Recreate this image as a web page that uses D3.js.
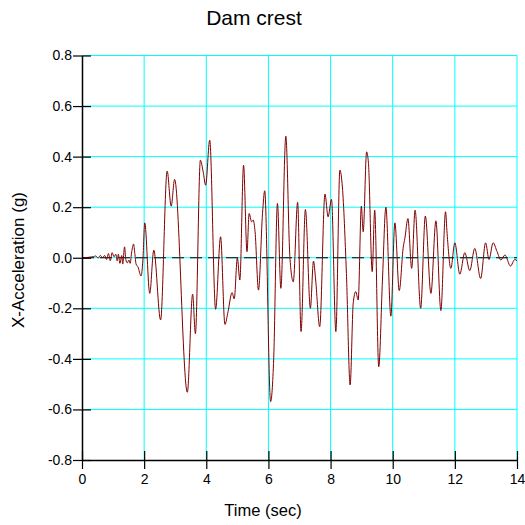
<!DOCTYPE html>
<html>
<head>
    <meta charset="UTF-8">
    <title>Dam crest</title>
    <script src="https://d3js.org/d3.v7.min.js"></script>
    <style>
        body { margin: 0; background: #fff; }
        text { font-family: "Liberation Sans", Arial, sans-serif; fill: #000; }
    </style>
</head>
<body>
<svg width="525" height="525"></svg>
<script>

  // DATA

  var timeSec = [
    0, 0.36, 0.44, 0.52, 0.59, 0.66, 0.73, 0.79, 0.85, 0.91,
    0.97, 1.03, 1.09, 1.13, 1.17, 1.22, 1.28, 1.31, 1.37, 1.41,
    1.46, 1.51, 1.55, 1.60, 1.66, 1.70, 1.74, 1.80, 1.90, 1.96,
    2.02, 2.18, 2.31, 2.53, 2.74, 2.87, 2.98, 3.39, 3.56, 3.65,
    3.81, 3.90, 3.98, 4.11, 4.30, 4.46, 4.60, 4.70, 4.83, 4.90,
    5.00, 5.08, 5.20, 5.31, 5.38, 5.46, 5.51, 5.57, 5.68, 5.81,
    5.88, 6.07, 6.17, 6.29, 6.40, 6.56, 6.69, 6.80, 6.94, 7.05,
    7.19, 7.35, 7.45, 7.52, 7.65, 7.82, 7.92, 8.03, 8.17, 8.30,
    8.38, 8.51, 8.63, 8.73, 8.81, 8.89, 8.99, 9.05, 9.16, 9.22,
    9.34, 9.42, 9.55, 9.67, 9.78, 9.94, 10.07, 10.21, 10.34, 10.39,
    10.49, 10.61, 10.72, 10.90, 11.05, 11.23, 11.39, 11.55, 11.70, 11.75,
    11.87, 12.00, 12.16, 12.32, 12.48, 12.64, 12.83, 12.99, 13.10, 13.23,
    13.36, 13.48, 13.61, 13.79, 13.93, 14.0
  ];

  var accelG = [
    0, 0.004, 0.007, -0.001, 0.009, 0.001, 0.009, -0.007, 0.017, -0.012,
    0.020, 0.004, 0.014, -0.012, 0.014, -0.022, 0.009, -0.025, 0.043, -0.007,
    -0.020, -0.009, -0.022, 0.024, 0.054, 0.017, -0.025, -0.036, -0.072, -0.009,
    0.138, -0.141, 0.030, -0.246, 0.343, 0.204, 0.310, -0.532, -0.144, -0.300,
    0.386, 0.340, 0.287, 0.465, -0.204, 0.083, -0.264, -0.213, -0.138, -0.163,
    0.000, -0.088, 0.366, 0.024, 0.175, 0.142, 0.149, 0.103, -0.128, 0.175,
    0.265, -0.569, -0.398, 0.215, -0.121, 0.481, 0.004, -0.095, 0.219, -0.292,
    0.191, -0.200, -0.013, -0.088, -0.273, 0.252, 0.162, 0.231, -0.292, 0.347,
    0.280, -0.062, -0.503, -0.178, -0.134, -0.167, 0.204, 0.103, 0.419, 0.373,
    -0.055, 0.188, -0.431, -0.088, 0.200, -0.231, 0.138, -0.130, 0.043, 0.076,
    0.155, -0.042, 0.188, -0.200, 0.165, -0.141, 0.146, -0.209, 0.182, 0.096,
    -0.042, 0.059, -0.065, 0.020, -0.051, 0.037, -0.082, 0.059, -0.007, 0.059,
    0.024, -0.009, 0.011, -0.033, -0.007, -0.012
  ];

  var xTicks = [0, 2, 4, 6, 8, 10, 12, 14];
  var yTicks = [-0.8, -0.6, -0.4, -0.2, 0, 0.2, 0.4, 0.6, 0.8];

  var title = "Dam crest",
      xLabel = "Time (sec)",
      yLabel = "X-Acceleration (g)";

  // SETUP

  var svg = d3.select("svg"),
      plotLeft = 82, plotRight = 517, plotTop = 55.5, plotBottom = 460;

  var x = d3.scaleLinear().domain([0, 14]).range([plotLeft, plotRight]),
      y = d3.scaleLinear().domain([-0.8, 0.8]).range([plotBottom, plotTop]);

  // grid
  var grid = svg.append("g").attr("stroke", "#00ffff").attr("stroke-width", 1);

  grid.selectAll(".vgrid")
    .data(xTicks.slice(1))
    .enter().append("line")
    .attr("x1", function (d) { return x(d); })
    .attr("x2", function (d) { return x(d); })
    .attr("y1", plotTop)
    .attr("y2", plotBottom);

  grid.selectAll(".hgrid")
    .data(yTicks.slice(1))
    .enter().append("line")
    .attr("x1", plotLeft)
    .attr("x2", plotRight)
    .attr("y1", function (d) { return y(d); })
    .attr("y2", function (d) { return y(d); });

  // zero line
  svg.append("line")
    .attr("x1", plotLeft).attr("x2", plotRight)
    .attr("y1", y(0)).attr("y2", y(0))
    .attr("stroke", "#000")
    .attr("stroke-width", 1)
    .attr("stroke-dasharray", "12,6");

  // the record
  var data = timeSec.map(function (t, i) { return [t, accelG[i]]; });

  var line = d3.line()
    .x(function (d) { return x(d[0]); })
    .y(function (d) { return y(d[1]); })
    .curve(d3.curveMonotoneX);

  svg.append("path")
    .datum(data)
    .attr("fill", "none")
    .attr("stroke", "#800000")
    .attr("stroke-width", 1)
    .attr("d", line);

  // AXES

  var xAxis = svg.append("g")
    .attr("transform", "translate(0," + plotBottom + ")")
    .call(d3.axisBottom(x).tickValues(xTicks).tickSize(9).tickSizeOuter(0).tickPadding(5));

  xAxis.selectAll(".tick line").attr("y1", -9);

  var yAxis = svg.append("g")
    .attr("transform", "translate(" + plotLeft + ",0)")
    .call(d3.axisLeft(y).tickValues(yTicks).tickSize(9).tickSizeOuter(0).tickPadding(1)
      .tickFormat(function (d) { return d.toFixed(1); }));

  yAxis.selectAll(".tick line").attr("x1", 9);

  svg.selectAll(".domain").attr("stroke", "#000").attr("stroke-width", 1.5);
  svg.selectAll(".tick line").attr("stroke", "#000").attr("stroke-width", 1.2);
  svg.selectAll(".tick text")
    .style("font-family", "'Liberation Sans', Arial, sans-serif")
    .style("font-size", "14px");

  // LABELS

  svg.append("text")
    .attr("x", 254)
    .attr("y", 25)
    .attr("text-anchor", "middle")
    .style("font-size", "21px")
    .text(title);

  svg.append("text")
    .attr("x", 263)
    .attr("y", 516)
    .attr("text-anchor", "middle")
    .style("font-size", "16.5px")
    .text(xLabel);

  svg.append("text")
    .attr("transform", "translate(24,260) rotate(-90)")
    .attr("text-anchor", "middle")
    .style("font-size", "17px")
    .text(yLabel);

</script>
</body>
</html>
